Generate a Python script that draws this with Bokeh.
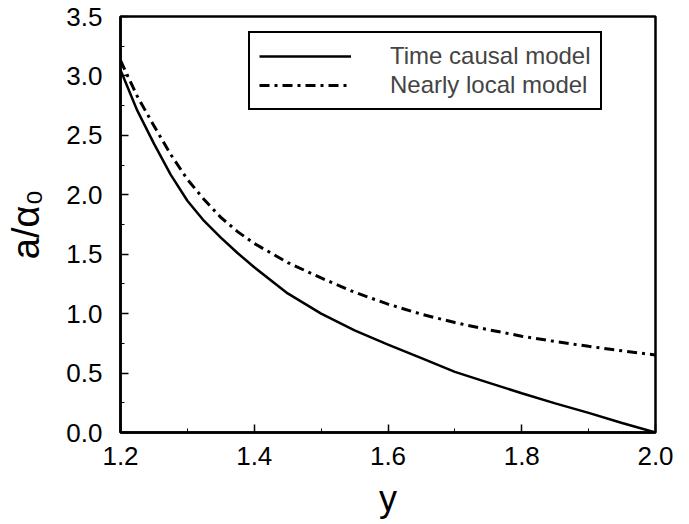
from bokeh.plotting import figure
from bokeh.models import Range1d, FixedTicker, PrintfTickFormatter, Legend, LegendItem
from bokeh.embed import file_html
from bokeh.resources import INLINE

# data
y_param = [1.20, 1.225, 1.25, 1.275, 1.30, 1.325, 1.35, 1.375, 1.40, 1.45, 1.50, 1.55,
           1.60, 1.65, 1.70, 1.75, 1.80, 1.85, 1.90, 1.95, 2.00]
time_causal = [3.05, 2.71, 2.43, 2.17, 1.95, 1.78, 1.64, 1.51, 1.39, 1.17, 1.00, 0.86,
               0.74, 0.625, 0.51, 0.42, 0.33, 0.245, 0.165, 0.08, 0.0]
nearly_local = [3.13, 2.83, 2.58, 2.34, 2.13, 1.96, 1.81, 1.69, 1.59, 1.43, 1.30, 1.18,
                1.08, 0.995, 0.925, 0.865, 0.81, 0.765, 0.725, 0.687, 0.652]

x_ticks = [1.2, 1.4, 1.6, 1.8, 2.0]
x_minor = [1.3, 1.5, 1.7, 1.9]
y_ticks = [0.0, 0.5, 1.0, 1.5, 2.0, 2.5, 3.0, 3.5]
y_minor = [0.25, 0.75, 1.25, 1.75, 2.25, 2.75, 3.25]

FONT = "Liberation Sans"

p = figure(width=689, height=524, output_backend="svg", toolbar_location=None,
           x_range=Range1d(1.2, 2.0), y_range=Range1d(0.0, 3.5),
           min_border_left=120, min_border_right=34, min_border_top=16,
           min_border_bottom=92)
p.background_fill_color = "white"
p.border_fill_color = "white"
p.outline_line_color = "black"
p.outline_line_width = 2.5
p.xgrid.visible = False
p.ygrid.visible = False

r1 = p.line(y_param, time_causal, line_color="black", line_width=2.5)
r2 = p.line(y_param, nearly_local, line_color="black", line_width=3,
            line_dash="10 5 3 5")

for ax, ticks, minor in ((p.xaxis[0], x_ticks, x_minor), (p.yaxis[0], y_ticks, y_minor)):
    ax.ticker = FixedTicker(ticks=ticks, minor_ticks=minor)
    ax.formatter = PrintfTickFormatter(format="%.1f")
    ax.axis_line_color = "black"
    ax.axis_line_width = 2.5
    ax.major_tick_in = 8
    ax.major_tick_out = 0
    ax.minor_tick_in = 4
    ax.minor_tick_out = 0
    ax.major_tick_line_width = 1.5
    ax.minor_tick_line_width = 1
    ax.major_label_text_font = FONT
    ax.major_label_text_font_size = "26px"
    ax.major_label_text_color = "black"
    ax.axis_label_text_font = FONT
    ax.axis_label_text_font_style = "normal"
    ax.axis_label_text_color = "black"
    ax.axis_label_text_font_size = "36px"

p.xaxis.axis_label = "y"
p.xaxis.major_label_standoff = 14
p.xaxis.axis_label_standoff = 10

p.yaxis.axis_label = "a/α₀"
p.yaxis.axis_label_text_font_size = "38px"
p.yaxis.major_label_standoff = 18
p.yaxis.axis_label_standoff = 16

legend = Legend(items=[LegendItem(label="Time causal model", renderers=[r1]),
                       LegendItem(label="Nearly local model", renderers=[r2])],
                location=(128, 322))
legend.border_line_color = "black"
legend.border_line_alpha = 1.0
legend.border_line_width = 2.5
legend.background_fill_alpha = 1.0
legend.label_text_font = FONT
legend.label_text_font_size = "24px"
legend.label_height = 20
legend.glyph_height = 20
legend.glyph_width = 92
legend.label_standoff = 39
legend.spacing = 1
legend.padding = 9
legend.margin = 0
p.add_layout(legend)

open("out.html", "w").write(file_html(p, INLINE))
